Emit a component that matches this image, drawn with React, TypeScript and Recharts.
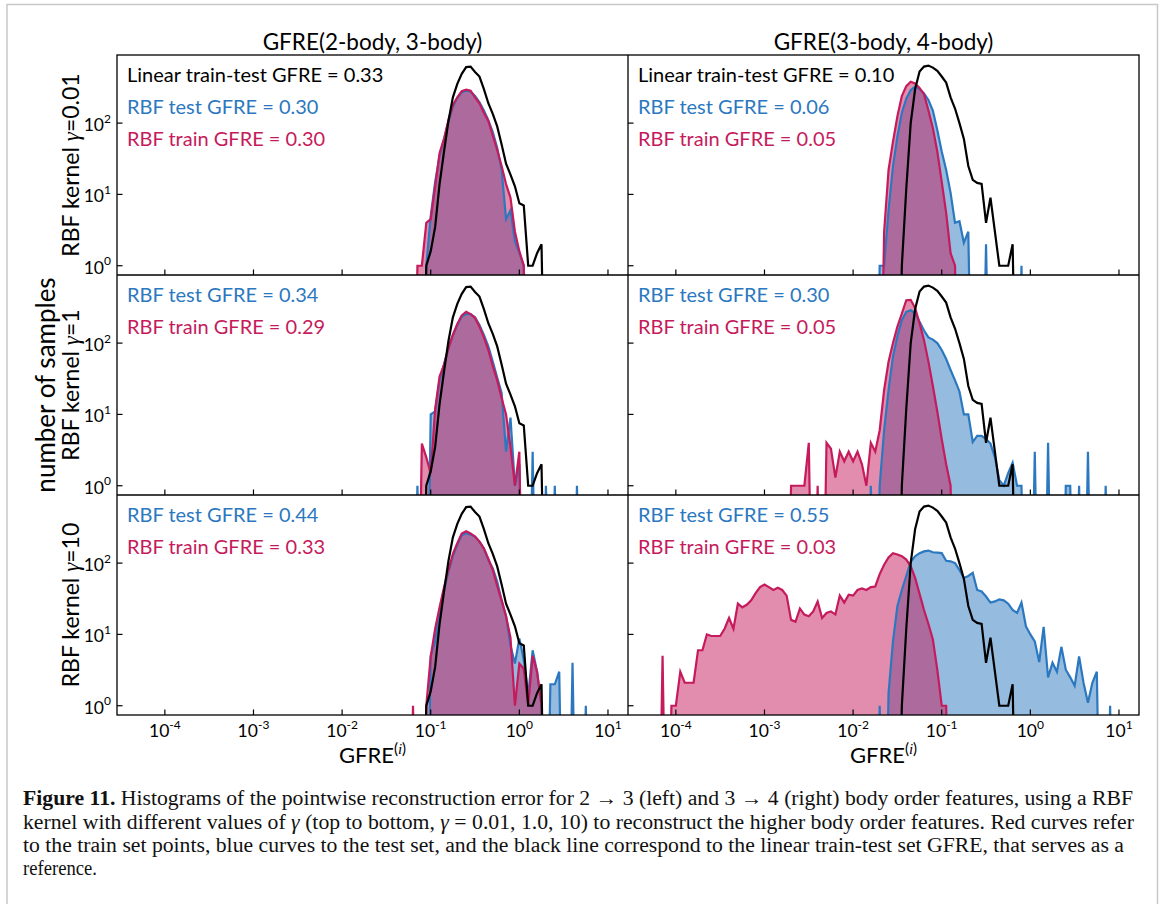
import React from "react";
import { ComposedChart, Area, Line, XAxis, YAxis } from "recharts";

// axis limits (log10 units)
const X_DOMAIN: [number, number] = [Math.pow(10, -4.54), Math.pow(10, 1.226)];
const Y_DOMAIN: [number, number] = [Math.pow(10, -0.13), Math.pow(10, 2.955)];
const X_TICKS = [1e-4, 1e-3, 1e-2, 1e-1, 1, 10];
const X_TICK_EXP = ["-4", "-3", "-2", "-1", "0", "1"];
const Y_TICKS = [1, 10, 100];
const Y_TICK_EXP = ["0", "1", "2"];

// histogram bins are 0.05 wide in log10(GFRE); `from` = log10 of the first bin centre
const BIN = 0.05;
// empty bins go far below the axis (matplotlib clips log(0) the same way)
const EMPTY = 1e-3;

type Hist = { from: number; counts: number[] };

// black reference curves, same in every row of a column
const linear23: Hist = {
  from: -1.05,
  counts: [1, 1.6, 3.5, 14, 40, 107, 230, 355, 490, 610, 620, 520, 450, 300, 190, 135, 90, 50, 27, 19, 13, 7.5, 7, 1, 1, 1.5, 2],
};
const linear34: Hist = {
  from: -1.45,
  counts: [1, 12, 100, 300, 530, 620, 640, 600, 540, 450, 370, 230, 160, 100, 60, 25, 16, 14.5, 14, 4, 9, 3, 1, 1, 1, 2],
};

// GFRE(2-body, 3-body)
const train23Gamma001: Hist = {
  from: -1.15,
  counts: [1, 1, 4, 4.5, 13, 38, 60, 110, 180, 230, 280, 295, 285, 230, 190, 140, 107, 67, 42, 25, 14, 9, 3, 1.6, 1],
};
const test23Gamma001: Hist = {
  from: -1.05,
  counts: [1, 5, 15, 35, 60, 105, 170, 225, 270, 285, 275, 240, 195, 150, 110, 75, 45, 22, 4.5, 6, 2.2, 1.5, 1],
};
const train23Gamma1: Hist = {
  from: -1.1,
  counts: [3.9, 2.5, 1.5, 12, 34, 50, 85, 130, 185, 245, 274, 255, 225, 170, 120, 80, 48, 30, 17, 10, 3.5, 1, 3],
};
const test23Gamma1: Hist = {
  from: -1.15,
  counts: [1, 0, 0, 10, 11, 30, 50, 85, 130, 180, 235, 255, 255, 230, 180, 130, 90, 55, 33, 20, 3, 9, 1, 2, 0, 0, 3, 0, 0, 1, 0, 1, 0, 0, 0, 0, 1],
};
const train23Gamma10: Hist = {
  from: -1.2,
  counts: [1, 0, 0, 1, 4.9, 12, 24, 46, 80, 135, 190, 260, 280, 260, 235, 200, 160, 115, 80, 48, 30, 18, 9, 1, 3.9, 3.3, 1, 5, 3, 1],
};
const test23Gamma10: Hist = {
  from: -1.0,
  counts: [5, 8, 22, 42, 75, 125, 180, 245, 262, 250, 235, 200, 160, 110, 85, 55, 30, 18, 7, 3.9, 8.8, 4.4, 1.4, 6, 3, 1, 0, 2, 2, 3, 0, 0, 4, 0, 0, 1],
};

// GFRE(3-body, 4-body)
const train34Gamma001: Hist = {
  from: -1.65,
  counts: [3, 22, 55, 125, 240, 330, 380, 360, 310, 255, 150, 85, 40, 15, 5.5, 1.5, 1],
};
const test34Gamma001: Hist = {
  from: -1.7,
  counts: [1, 1, 6, 25, 65, 140, 220, 290, 325, 300, 260, 210, 150, 80, 40, 22, 10.5, 4, 4.2, 2.1, 3, 0, 0, 0, 2, 0, 0, 0, 0, 0, 0, 0, 1],
};
const train34Gamma1: Hist = {
  from: -2.7,
  counts: [1, 1, 1, 1, 4, 0, 1, 0, 4, 3.3, 1.3, 3, 2.2, 3, 2.2, 3, 2, 1, 4, 3, 6, 22, 55, 100, 170, 260, 400, 405, 310, 190, 110, 55, 25, 11, 4.5, 2, 1],
};
const test34Gamma1: Hist = {
  from: -1.8,
  counts: [1, 0, 1, 6, 22, 65, 125, 210, 275, 290, 260, 200, 150, 120, 112, 100, 80, 60, 42, 30, 21, 10, 10, 4.1, 5, 5, 4.5, 3.9, 2.5, 1.2, 1, 1.5, 2.1, 1, 1, 0, 0, 3, 0, 0, 4, 0, 0, 0, 1, 1, 0, 1, 0, 3, 0, 0, 0, 1],
};
const train34Gamma10: Hist = {
  from: -4.15,
  counts: [
    5, 0, 1, 1, 3, 2.1, 2.1, 2.1, 6, 6, 10, 9.5, 9.5, 9.5, 12, 17, 12, 27, 24, 26, 30, 38, 46, 50, 46, 42, 45, 42, 35, 16, 15,
    23, 19, 18, 21, 29, 17, 20, 21, 19, 35, 28, 36, 35, 42, 44, 42, 46, 47, 70, 95, 120, 138, 132, 125, 112, 90, 62, 37, 22, 14,
    8.5, 3.2, 1, 1,
  ],
};
const test34Gamma10: Hist = {
  from: -1.7,
  counts: [
    1, 0, 1.5, 8, 25, 42, 66, 104, 125, 138, 146, 150, 142, 140, 138, 108, 106, 100, 80, 62, 66, 73, 42, 40, 34, 28, 29, 31, 30,
    27, 22, 20, 28, 13, 10, 8, 4.1, 12.8, 2.5, 4, 3, 6.7, 3.2, 2.5, 1.9, 4.9, 2.1, 1.1, 2.1, 3, 0, 0, 1,
  ],
};

// text
const COLUMN_TITLES = ["GFRE(2-body, 3-body)", "GFRE(3-body, 4-body)"];
const ROW_GAMMAS = ["0.01", "1", "10"];
const LINEAR_GFRE = ["0.33", "0.10"];
const TEST_GFRE = [
  ["0.30", "0.34", "0.44"],
  ["0.06", "0.30", "0.55"],
];
const TRAIN_GFRE = [
  ["0.30", "0.29", "0.33"],
  ["0.05", "0.05", "0.03"],
];

const BLUE = "#2b78c0";
const RED = "#c51b5c";
const FONT = "Lato, 'DejaVu Sans', sans-serif";
const SERIF = "'Liberation Serif', 'Times New Roman', Times, serif";

const PANEL_W = 511;
const PANEL_H = 220;
const Y_AXIS_W = 60;
const X_AXIS_H = 40;
const COL_LEFT = [117, 628];
const ROW_TOP = [55, 275, 495];
const TICK_LEN = 5.5;

function buildTable(series: Record<string, Hist>) {
  const keys = Object.keys(series);
  const start: Record<string, number> = {};
  let lo = Infinity;
  let hi = -Infinity;
  keys.forEach((k) => {
    const s = series[k];
    const i0 = Math.round(s.from / BIN);
    start[k] = i0;
    lo = Math.min(lo, i0);
    hi = Math.max(hi, i0 + s.counts.length - 1);
  });
  const rows: any[] = [];
  for (let i = lo - 1; i <= hi + 1; i++) {
    const row: any = { x: Math.pow(10, i * BIN) };
    keys.forEach((k) => {
      const c = series[k].counts[i - start[k]];
      row[k] = c > 0 ? c : EMPTY;
    });
    rows.push(row);
  }
  return rows;
}

function XTick(props: any) {
  const { x, y, payload, showLabel } = props;
  const i = X_TICKS.indexOf(payload.value);
  return (
    <g>
      <line x1={x} x2={x} y1={y} y2={y - TICK_LEN} stroke="#000" strokeWidth={1.2} />
      {showLabel && (
        <text x={x} y={y + 22} textAnchor="middle" fontFamily={FONT} fontSize={17.5} fill="#000">
          10
          <tspan dy={-8} fontSize={12}>
            {X_TICK_EXP[i]}
          </tspan>
        </text>
      )}
    </g>
  );
}

function YTick(props: any) {
  const { x, y, payload, showLabel } = props;
  const i = Y_TICKS.indexOf(payload.value);
  return (
    <g>
      <line x1={x} x2={x + TICK_LEN} y1={y} y2={y} stroke="#000" strokeWidth={1.2} />
      {showLabel && (
        <text x={x - 6} y={y + 8} textAnchor="end" fontFamily={FONT} fontSize={17.5} fill="#000">
          10
          <tspan dy={-8.5} fontSize={12}>
            {Y_TICK_EXP[i]}
          </tspan>
        </text>
      )}
    </g>
  );
}

function Panel({ row, col, test, train, linear }: { row: number; col: number; test: Hist; train: Hist; linear: Hist }) {
  const data = buildTable({ test, train, linear });
  const showX = row === 2;
  const showY = col === 0;
  return (
    <div style={{ position: "absolute", left: COL_LEFT[col] - Y_AXIS_W, top: ROW_TOP[row] }}>
      <ComposedChart
        width={PANEL_W + Y_AXIS_W}
        height={PANEL_H + X_AXIS_H}
        data={data}
        margin={{ top: 0, right: 0, bottom: 0, left: 0 }}
      >
        <XAxis
          dataKey="x"
          type="number"
          scale="log"
          domain={X_DOMAIN}
          allowDataOverflow
          ticks={X_TICKS}
          interval={0}
          height={X_AXIS_H}
          axisLine={false}
          tickLine={false}
          tickSize={0}
          tickMargin={0}
          tick={(p: any) => <XTick {...p} showLabel={showX} />}
        />
        <YAxis
          type="number"
          scale="log"
          domain={Y_DOMAIN}
          allowDataOverflow
          ticks={Y_TICKS}
          interval={0}
          width={Y_AXIS_W}
          axisLine={false}
          tickLine={false}
          tickSize={0}
          tickMargin={0}
          tick={(p: any) => <YTick {...p} showLabel={showY} />}
        />
        <Area type="linear" dataKey="test" stroke="none" fill={BLUE} fillOpacity={0.5} baseValue={Y_DOMAIN[0]} isAnimationActive={false} />
        <Area type="linear" dataKey="train" stroke="none" fill={RED} fillOpacity={0.5} baseValue={Y_DOMAIN[0]} isAnimationActive={false} />
        <Line type="linear" dataKey="test" stroke={BLUE} strokeWidth={2.2} dot={false} isAnimationActive={false} />
        <Line type="linear" dataKey="train" stroke={RED} strokeWidth={2.2} dot={false} isAnimationActive={false} />
        <Line type="linear" dataKey="linear" stroke="#000" strokeWidth={2.2} dot={false} isAnimationActive={false} />
      </ComposedChart>
    </div>
  );
}

const PANELS = [
  { row: 0, col: 0, test: test23Gamma001, train: train23Gamma001, linear: linear23 },
  { row: 0, col: 1, test: test34Gamma001, train: train34Gamma001, linear: linear34 },
  { row: 1, col: 0, test: test23Gamma1, train: train23Gamma1, linear: linear23 },
  { row: 1, col: 1, test: test34Gamma1, train: train34Gamma1, linear: linear34 },
  { row: 2, col: 0, test: test23Gamma10, train: train23Gamma10, linear: linear23 },
  { row: 2, col: 1, test: test34Gamma10, train: train34Gamma10, linear: linear34 },
];

function Overlay() {
  const notes: React.ReactNode[] = [];
  [0, 1, 2].forEach((r) => {
    [0, 1].forEach((c) => {
      const x = COL_LEFT[c] + 10;
      let y = ROW_TOP[r] + 27;
      const lines: [string, string][] = [];
      if (r === 0) lines.push([`Linear train-test GFRE = ${LINEAR_GFRE[c]}`, "#000"]);
      lines.push([`RBF test GFRE = ${TEST_GFRE[c][r]}`, BLUE]);
      lines.push([`RBF train GFRE = ${TRAIN_GFRE[c][r]}`, RED]);
      lines.forEach(([t, color], k) => {
        notes.push(
          <text key={`n${r}${c}${k}`} x={x} y={y} fontFamily={FONT} fontSize={20} fill={color} style={{ whiteSpace: "pre" }}>
            {t}
          </text>
        );
        y += 32;
      });
    });
  });

  return (
    <svg width={1167} height={904} style={{ position: "absolute", left: 0, top: 0, pointerEvents: "none" }}>
      <path d="M7 910 V4.5 H1157.5 V910" fill="none" stroke="#c8c8c8" strokeWidth={1.5} />

      {/* panel frames */}
      <rect x={117} y={55} width={1022} height={660} fill="none" stroke="#000" strokeWidth={1.3} />
      <line x1={628} x2={628} y1={55} y2={715} stroke="#000" strokeWidth={1.3} />
      <line x1={117} x2={1139} y1={275} y2={275} stroke="#000" strokeWidth={1.3} />
      <line x1={117} x2={1139} y1={495} y2={495} stroke="#000" strokeWidth={1.3} />

      {COLUMN_TITLES.map((t, c) => (
        <text key={t} x={COL_LEFT[c] + PANEL_W / 2} y={50} textAnchor="middle" fontFamily={FONT} fontSize={22.5} fill="#000">
          {t}
        </text>
      ))}

      {ROW_GAMMAS.map((g, r) => (
        <text
          key={g}
          transform={`translate(79 ${ROW_TOP[r] + PANEL_H / 2}) rotate(-90)`}
          textAnchor="middle"
          fontFamily={FONT}
          fontSize={23}
          fill="#000"
        >
          RBF kernel{" "}
          <tspan fontFamily={SERIF} fontStyle="italic">
            γ
          </tspan>
          ={g}
        </text>
      ))}

      <text transform="translate(55 385) rotate(-90)" textAnchor="middle" fontFamily={FONT} fontSize={26} fill="#000">
        number of samples
      </text>

      {[0, 1].map((c) => (
        <text key={`xl${c}`} x={COL_LEFT[c] + PANEL_W / 2} y={763} textAnchor="middle" fontFamily={FONT} fontSize={22} fill="#000">
          GFRE
          <tspan dy={-9} fontSize={15}>
            (<tspan fontFamily={SERIF} fontStyle="italic">i</tspan>)
          </tspan>
        </text>
      ))}

      {notes}

      {/* caption, squeezed to the reference line widths */}
      <g fontFamily={SERIF} fontSize={20} fill="#111">
        <text x={23} y={805} textLength={1110} lengthAdjust="spacingAndGlyphs">
          <tspan fontWeight="bold">Figure 11.</tspan> Histograms of the pointwise reconstruction error for 2 → 3 (left) and 3 → 4 (right)
          body order features, using a RBF
        </text>
        <text x={23} y={828.5} textLength={1111} lengthAdjust="spacingAndGlyphs">
          kernel with different values of <tspan fontStyle="italic">γ</tspan> (top to bottom, <tspan fontStyle="italic">γ</tspan> = 0.01,
          1.0, 10) to reconstruct the higher body order features. Red curves refer
        </text>
        <text x={23} y={851.5} textLength={1101} lengthAdjust="spacingAndGlyphs">
          to the train set points, blue curves to the test set, and the black line correspond to the linear train-test set GFRE, that serves
          as a
        </text>
        <text x={23} y={874.5} textLength={74} lengthAdjust="spacingAndGlyphs">
          reference.
        </text>
      </g>
    </svg>
  );
}

export default function App() {
  return (
    <div style={{ position: "absolute", left: 0, top: 0, width: 1167, height: 904, background: "#fff", overflow: "hidden" }}>
      {PANELS.map((p) => (
        <Panel key={`${p.row}-${p.col}`} {...p} />
      ))}
      <Overlay />
    </div>
  );
}
